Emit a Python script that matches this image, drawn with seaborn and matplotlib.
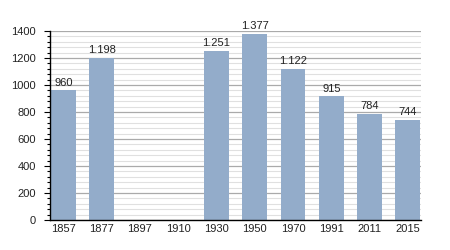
import matplotlib
matplotlib.use("Agg")
import matplotlib.pyplot as plt
import seaborn as sns
import numpy as np
import pandas as pd
from matplotlib.ticker import MultipleLocator

years = ["1857", "1877", "1897", "1910", "1930", "1950", "1970", "1991", "2011", "2015"]
population = [960, 1198, np.nan, np.nan, 1251, 1377, 1122, 915, 784, 744]
labels = ["960", "1.198", "", "", "1.251", "1.377", "1.122", "915", "784", "744"]

sns.set_style("white")
plt.rcParams['font.family'] = ['Liberation Sans', 'DejaVu Sans']

df = pd.DataFrame({"year": years, "pop": population})

fig = plt.figure(figsize=(4.5, 2.5), dpi=100)
ax = fig.add_axes([50/450, 1-220/250, 370.5/450, 189/250])

sns.barplot(data=df, x="year", y="pop", order=years, color="#93acca",
            saturation=1, width=0.65, linewidth=0, ax=ax, zorder=3)

ax.set_ylim(0, 1400)
ax.set_xlim(-0.35, 9.33)
ax.yaxis.set_major_locator(MultipleLocator(200))
ax.yaxis.set_minor_locator(MultipleLocator(40))
ax.grid(which="major", axis="y", color="#aaaaaa", linewidth=0.9, zorder=0)
ax.grid(which="minor", axis="y", color="#e0e0e0", linewidth=0.8, zorder=0)
ax.set_axisbelow(True)

for s in ["top", "right"]:
    ax.spines[s].set_visible(False)
for s in ["left", "bottom"]:
    ax.spines[s].set_color("black")
    ax.spines[s].set_linewidth(1.0)
    ax.spines[s].set_zorder(5)

ax.tick_params(axis="y", which="major", direction="out", length=4, width=0.8,
               color="black", labelsize=8, pad=6, left=True, labelcolor="#222222")
ax.tick_params(axis="y", which="minor", direction="out", length=2, width=0.8,
               color="black", left=True)
ax.tick_params(axis="x", length=0, labelsize=8, pad=3, labelcolor="#222222")
ax.set_xlabel("")
ax.set_ylabel("")

for bar in ax.patches:
    cx = bar.get_x() + bar.get_width() / 2
    idx = int(round(cx))
    h = bar.get_height()
    if not np.isfinite(h) or h <= 0 or not labels[idx]:
        continue
    ax.annotate(labels[idx], (cx, h),
                xytext=(0, 2), textcoords="offset points",
                ha="center", va="bottom", fontsize=8, color="#222222")

fig.savefig("out.png", dpi=100)
